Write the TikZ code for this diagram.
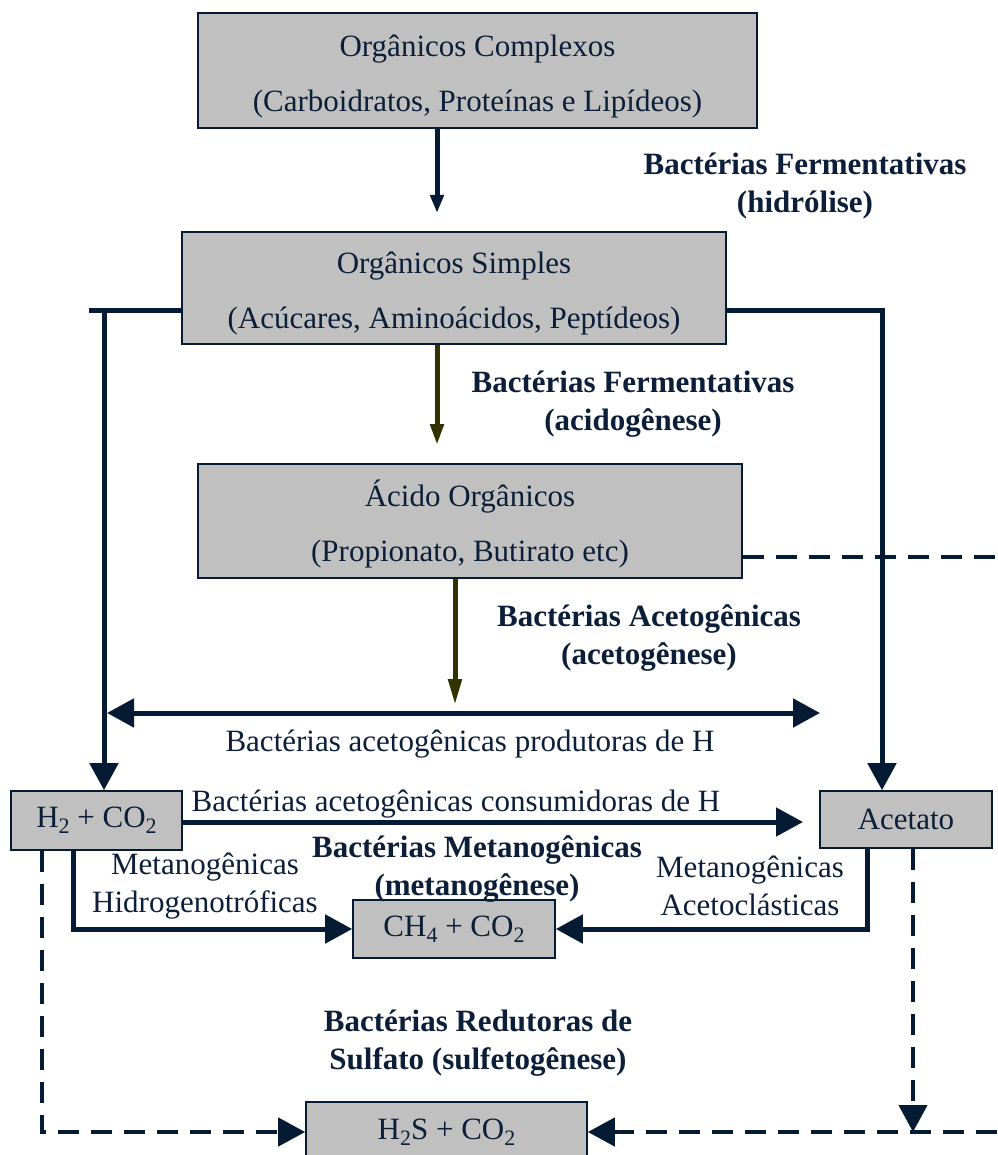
\documentclass[tikz,border=0pt]{standalone}
\usepackage{fontspec}
\setmainfont{Liberation Serif}
\usetikzlibrary{arrows.meta}
\definecolor{navy}{RGB}{5,27,52}
\definecolor{txt}{RGB}{12,30,56}
\definecolor{olivearr}{RGB}{51,51,0}
\definecolor{boxgray}{RGB}{192,192,192}
\newcommand\sbs[1]{\raisebox{-0.45ex}{\fontsize{11pt}{11pt}\selectfont #1}}
\begin{document}
\begin{tikzpicture}[x=0.5pt,y=-0.5pt,
  every node/.style={text=txt, font=\fontsize{15.5pt}{19pt}\selectfont, align=center, inner sep=0pt},
  box/.style={draw=navy, line width=0.8pt, fill=boxgray},
  lbl/.style={font=\fontsize{15.5pt}{19pt}\selectfont\bfseries},
  conn/.style={draw=navy, line width=2.5pt},
  arr/.style={conn, -{Triangle[length=13.5pt,width=14pt]}},
  smallarr/.style={conn, -{Triangle[length=#1,width=6.5pt]}},
  olivearrow/.style={smallarr=#1, draw=olivearr, fill=olivearr},
  dashline/.style={draw=navy, line width=2.2pt, dash pattern=on 10.5pt off 6pt},
  dasharr/.style={dashline, -{Triangle[length=13.5pt,width=14pt]}}]
\useasboundingbox (0,0) rectangle (997,1155);

% boxes
\node[box, minimum width=279.5pt, minimum height=57.5pt] (b1) at (477.5,70.5)
  {\rule{0pt}{16.5pt}Orgânicos Complexos\\[8.5pt](Carboidratos, Proteínas e Lipídeos)};
\node[box, minimum width=272pt, minimum height=56pt] (b2) at (454,288)
  {\rule{0pt}{16.5pt}Orgânicos Simples\\[8.5pt](Acúcares, Aminoácidos, Peptídeos)};
\node[box, minimum width=272pt, minimum height=57pt] (b3) at (470,521)
  {\rule{0pt}{16.5pt}Ácido Orgânicos\\[8.5pt](Propionato, Butirato etc)};
\node[box, minimum width=85.5pt, minimum height=29.5pt] (h2) at (96.5,820.5)
  {H\sbs{2} + CO\sbs{2}};
\node[box, minimum width=86pt, minimum height=28.5pt] (ac) at (906,819.5) {Acetato};
\node[box, minimum width=101pt, minimum height=29pt] (ch4) at (454,929)
  {CH\sbs{4} + CO\sbs{2}};
\node[box, minimum width=140.5pt, minimum height=30pt] (h2s) at (446.5,1132)
  {H\sbs{2}S + CO\sbs{2}};

% labels
\node[lbl] (l1) at (805,186) {Bactérias Fermentativas\\(hidrólise)};
\node[lbl] (l2) at (633,404) {Bactérias Fermentativas\\(acidogênese)};
\node[lbl] (l3) at (649,638) {Bactérias Acetogênicas\\(acetogênese)};
\node (l4) at (470,744) {Bactérias acetogênicas produtoras de H};
\node (l5) at (456,804) {Bactérias acetogênicas consumidoras de H};
\node (l6) at (205,886) {Metanogênicas\\Hidrogenotróficas};
\node[lbl] (l7) at (477,869) {Bactérias Metanogênicas\\(metanogênese)};
\node (l8) at (750,886) {Metanogênicas\\Acetoclásticas};
\node[lbl] (l9) at (478,1043) {Bactérias Redutoras de\\Sulfato (sulfetogênese)};

% connector points
\coordinate (t1) at (437,213);
\coordinate (lstub) at (89,310);
\coordinate (lx) at (104,310);
\coordinate (rx) at (882,310);
\coordinate (t2) at (437,445);
\coordinate (t3) at (455,705);
\coordinate (dR1) at (997,557);
\coordinate (dl) at (107,713);
\coordinate (dr) at (820,713);
\coordinate (t4) at (803,822);
\coordinate (m1) at (73,929);
\coordinate (m2) at (867,929);
\coordinate (s1) at (42,1132);
\coordinate (s2) at (913,1132);
\coordinate (s3) at (997,1132);

% connectors
\draw[smallarr=9pt] (b1.south -| t1) -- (t1);
\draw[conn] (b2.west |- lx) -- (lstub);
\draw[arr] (lx) -- (h2.north -| lx);
\draw[arr] (b2.east |- rx) -- (rx) -- (ac.north -| rx);
\draw[olivearrow=10.5pt] (b2.south -| t2) -- (t2);
\draw[olivearrow=13pt] (b3.south -| t3) -- (t3);
\draw[dashline] (b3.east |- dR1) -- (dR1);
\draw[conn, {Triangle[length=13.5pt,width=14pt]}-{Triangle[length=13.5pt,width=14pt]}] (dl) -- (dr);
\draw[arr] (h2.east |- t4) -- (t4);
\draw[arr] (h2.south -| m1) -- (m1) -- (ch4.west);
\draw[arr] (ac.south -| m2) -- (m2) -- (ch4.east);
\draw[dasharr] (h2.south -| s1) -- (s1) -- (h2s.west);
\draw[dasharr] (ac.south -| s2) -- (s2);
\draw[dasharr] (s3) -- (h2s.east);
\end{tikzpicture}
\end{document}
